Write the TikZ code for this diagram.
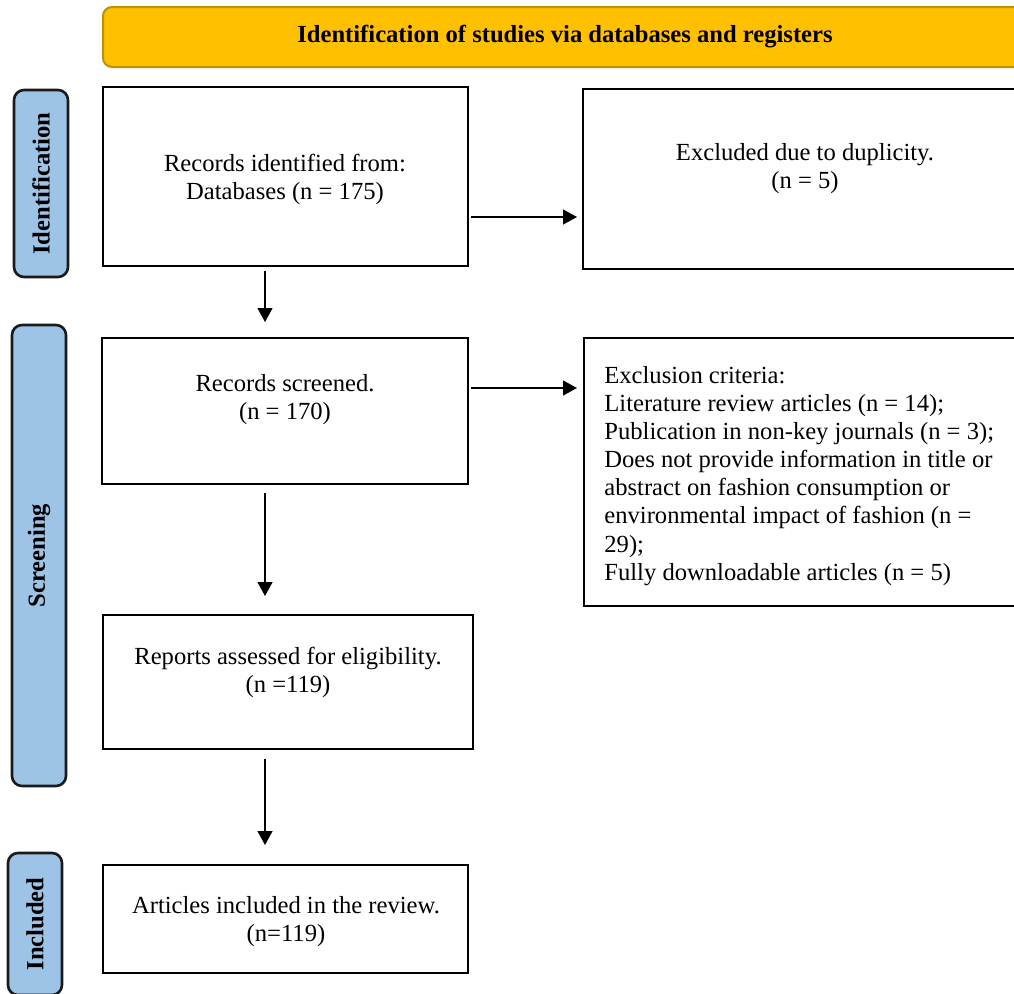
\documentclass[tikz,border=0pt]{standalone}
\usepackage{fontspec}
\setmainfont{Liberation Serif}
\usetikzlibrary{arrows.meta}
\definecolor{bannerfill}{HTML}{FFC000}
\definecolor{bannerdraw}{HTML}{BF9000}
\definecolor{labelfill}{HTML}{9DC3E6}
\definecolor{labeldraw}{HTML}{1A1A1A}
\tikzset{
  txt/.style={font=\fontsize{12.3pt}{14.05pt}\selectfont, inner sep=0pt},
  boxnode/.style={draw=black, line width=1pt, fill=white, inner sep=0pt},
  banner/.style={draw=bannerdraw, line width=1pt, fill=bannerfill, rounded corners=4.5pt, inner sep=0pt,
    font=\fontsize{12.3pt}{14pt}\selectfont\bfseries},
  phase/.style={draw=labeldraw, line width=1.3pt, fill=labelfill, rounded corners=5pt, inner sep=0pt,
    rotate=90, minimum height=27pt, font=\fontsize{12.3pt}{14pt}\selectfont\bfseries},
  arr/.style={line width=0.6pt, -{Triangle[length=7pt,width=7.5pt]}}
}
\begin{document}
\begin{tikzpicture}[x=0.5pt,y=-0.5pt]
\useasboundingbox (0,0) rectangle (1014,993);
% banner
\node[banner, minimum width=462pt, minimum height=30pt] (ban) at (565,37) {Identification of studies via databases and registers};
% phase labels
\node[phase, minimum width=93.5pt] (lid) at (41,183.5) {Identification};
\node[phase, minimum width=230.5pt] (lsc) at (39,555.5) {Screening};
\node[phase, minimum width=71pt] (lin) at (35,924) {Included};
% boxes
\node[boxnode, minimum width=182.5pt, minimum height=89.5pt] (b1) at (285.5,176.5) {};
\node[boxnode, minimum width=222pt, minimum height=90pt] (b2) at (805,179) {};
\node[boxnode, minimum width=183pt, minimum height=73pt] (b3) at (285,411) {};
\node[boxnode, minimum width=221.5pt, minimum height=134pt] (b4) at (805.5,472) {};
\node[boxnode, minimum width=185pt, minimum height=67pt] (b5) at (288,682) {};
\node[boxnode, minimum width=182.5pt, minimum height=54pt] (b6) at (285.5,919) {};
% texts
\node[txt, align=center] (t1) at (285,179) {Records identified from:\\Databases (n = 175)};
\node[txt, align=center] (t2) at (805,169) {Excluded due to duplicity.\\(n = 5)};
\node[txt, align=center] (t3) at (285,400) {Records screened.\\(n = 170)};
\node[txt, align=left, anchor=north west] (t4) at (604,366) {Exclusion criteria:\\Literature review articles (n = 14);\\Publication in non-key journals (n = 3);\\Does not provide information in title or\\abstract on fashion consumption or\\environmental impact of fashion (n =\\29);\\Fully downloadable articles (n = 5)};
\node[txt, align=center] (t5) at (288,672) {Reports assessed for eligibility.\\(n =119)};
\node[txt, align=center] (t6) at (286,922) {Articles included in the review.\\(n=119)};
% connectors
\coordinate (ax) at (265,0);
\coordinate (hy1) at (0,217);
\coordinate (hy2) at (0,388);
\draw[arr, shorten <=2pt, shorten >=7.5pt] (b1.south -| ax) -- (b3.north -| ax);
\draw[arr, shorten <=4pt, shorten >=9pt] (b3.south -| ax) -- (b5.north -| ax);
\draw[arr, shorten <=4.5pt, shorten >=9.5pt] (b5.south -| ax) -- (b6.north -| ax);
\draw[arr, shorten <=1pt, shorten >=2.5pt] (b1.east |- hy1) -- (b2.west |- hy1);
\draw[arr, shorten <=1pt, shorten >=3pt] (b3.east |- hy2) -- (b4.west |- hy2);
\end{tikzpicture}
\end{document}
